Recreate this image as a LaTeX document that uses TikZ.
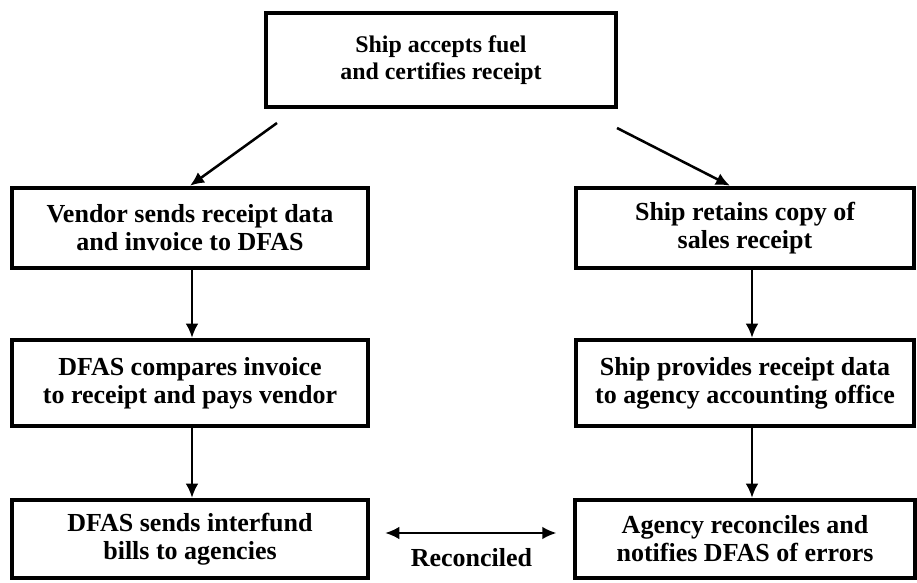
\documentclass[tikz,border=0pt]{standalone}
\usepackage{fontspec}
\setmainfont{Liberation Serif}
\usepackage{tikz}
\usetikzlibrary{arrows.meta, positioning}
\usetikzlibrary{calc}

\begin{document}
\begin{tikzpicture}[
		procbox/.style={draw, line width=3.2pt, align=center, inner sep=3pt, font=\fontsize{18.5}{20}\selectfont\bfseries},
		flow/.style={->, >={Latex[length=10pt,width=9pt]}, line width=1.4pt}]
		\useasboundingbox (0cm, 0cm) rectangle (22.925cm, 14.55cm);
		\draw (11.025cm, 13.05cm) node[procbox, minimum width=8.75cm, minimum height=2.35cm, font=\fontsize{17}{19}\selectfont\bfseries] (accept) {Ship accepts fuel\\and certifies receipt}
		(4.75cm, 8.85cm) node[procbox, minimum width=8.9cm, minimum height=2cm] (vendor) {Vendor sends receipt data\\and invoice to DFAS}
		(18.625cm, 8.85cm) node[procbox, minimum width=8.45cm, minimum height=2cm] (retain) {Ship retains copy of\\sales receipt}
		(4.75cm, 4.975cm) node[procbox, minimum width=8.9cm, minimum height=2.15cm] (compare) {DFAS compares invoice\\to receipt and pays vendor}
		(18.625cm, 4.975cm) node[procbox, minimum width=8.45cm, minimum height=2.15cm] (provide) {Ship provides receipt data\\to agency accounting office}
		(4.75cm, 1.075cm) node[procbox, minimum width=8.9cm, minimum height=1.95cm] (bills) {DFAS sends interfund\\bills to agencies}
		(18.625cm, 1.075cm) node[procbox, minimum width=8.5cm, minimum height=1.95cm] (agency) {Agency reconciles and\\notifies DFAS of errors};
		
		\coordinate (lstart) at (6.925cm, 11.475cm);
		\coordinate (rstart) at (15.425cm, 11.35cm);
		
		\draw[flow, line width=1.8pt] (lstart) -- (vendor.north);
		\draw[flow, line width=1.8pt] (rstart) -- ($(retain.north)+(-0.375cm,0)$);
		\draw[flow] ([xshift=0.05cm]vendor.south) -- ([xshift=0.05cm]compare.north);
		\draw[flow] ([xshift=0.175cm]retain.south) -- ([xshift=0.175cm]provide.north);
		\draw[flow] ([xshift=0.05cm]compare.south) -- ([xshift=0.05cm]bills.north);
		\draw[flow] ([xshift=0.175cm]provide.south) -- ([xshift=0.175cm]agency.north);
		\draw[flow, <->, shorten <=0.375cm, shorten >=0.41cm] ([yshift=0.15cm]bills.east) -- node[below=7pt, font=\fontsize{18.5}{20}\selectfont\bfseries] (rec) {Reconciled} ([yshift=0.15cm]agency.west);
	\end{tikzpicture}
\end{document}
